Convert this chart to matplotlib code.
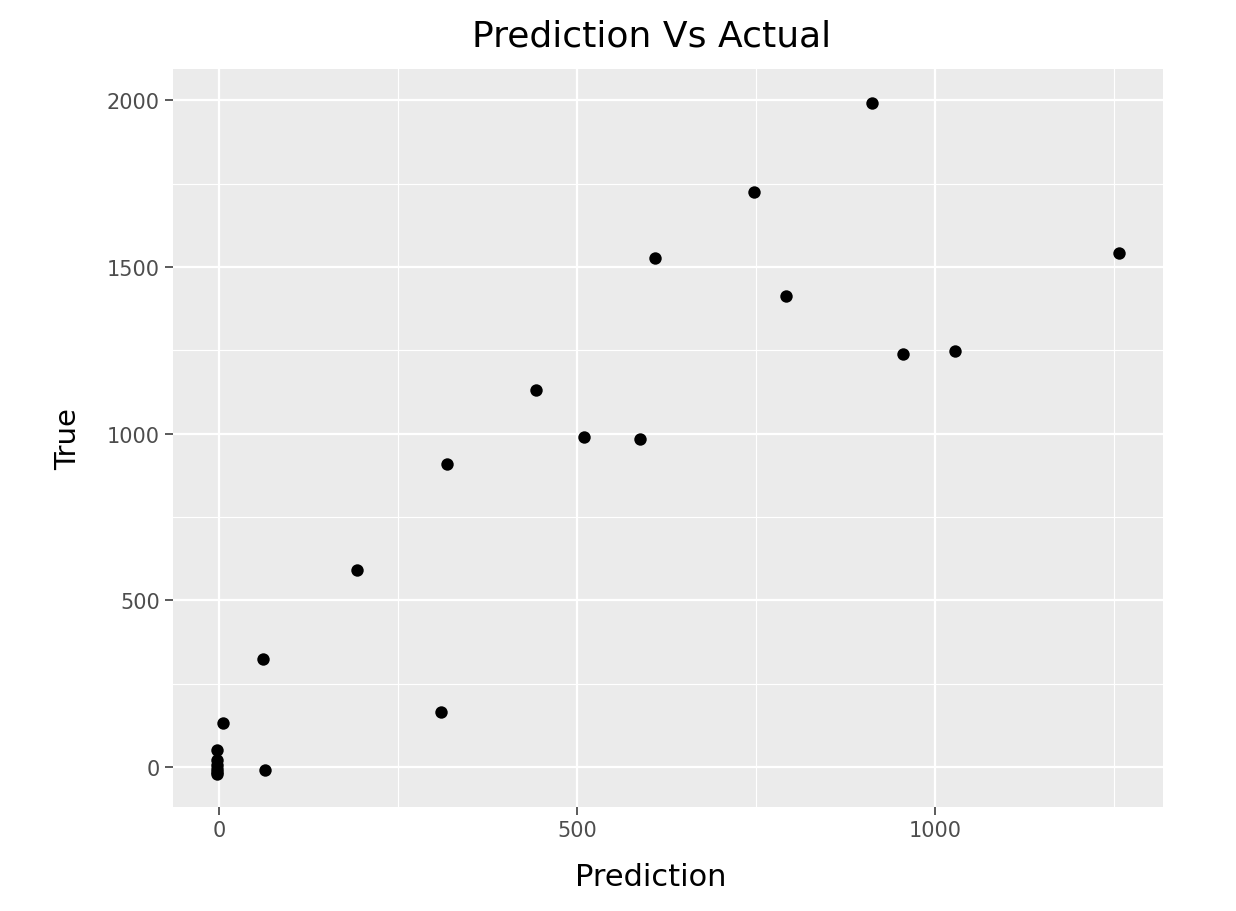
import numpy as np
import matplotlib
matplotlib.use("Agg")
import matplotlib.pyplot as plt

# predicted vs true values
prediction = [-3, -3, -3, -3, -3, -2, 6, 61, 65, 193, 310, 318, 443, 510, 588,
              609, 747, 792, 912, 955, 1027, 1257]
actual = [20, 5, -5, -15, -22, 52, 132, 324, -8, 591, 165, 908, 1130, 989, 983,
          1526, 1724, 1412, 1991, 1238, 1247, 1541]

x_ticks = [0, 500, 1000]
y_ticks = [0, 500, 1000, 1500, 2000]
x_minor = [250, 750, 1250]
y_minor = [250, 750, 1250, 1750]

fig = plt.figure(figsize=(12.36, 9.12), dpi=100)
ax = fig.add_axes([0.140, 0.114, 0.801, 0.809])
ax.set_facecolor("#ebebeb")
for s in ax.spines.values():
    s.set_visible(False)

ax.set_xlim(-64, 1318)
ax.set_ylim(-120, 2093)
ax.set_xticks(x_ticks)
ax.set_yticks(y_ticks)
ax.set_xticks(x_minor, minor=True)
ax.set_yticks(y_minor, minor=True)
ax.grid(True, which="major", color="white", linewidth=1.6)
ax.grid(True, which="minor", color="white", linewidth=0.8)
ax.set_axisbelow(True)
ax.tick_params(which="major", colors="#4d4d4d", labelsize=15, length=5.5,
               width=1.3, pad=4)
ax.tick_params(which="minor", length=0)

ax.scatter(prediction, actual, s=80, color="black", zorder=3, linewidths=0)

ax.set_title("Prediction Vs Actual", fontsize=26, pad=17, x=0.483)
ax.set_xlabel("Prediction", fontsize=22, labelpad=16, x=0.483)
ax.set_ylabel("True", fontsize=21, labelpad=18)

fig.savefig("out.png", dpi=100, facecolor="white")
plt.close()
